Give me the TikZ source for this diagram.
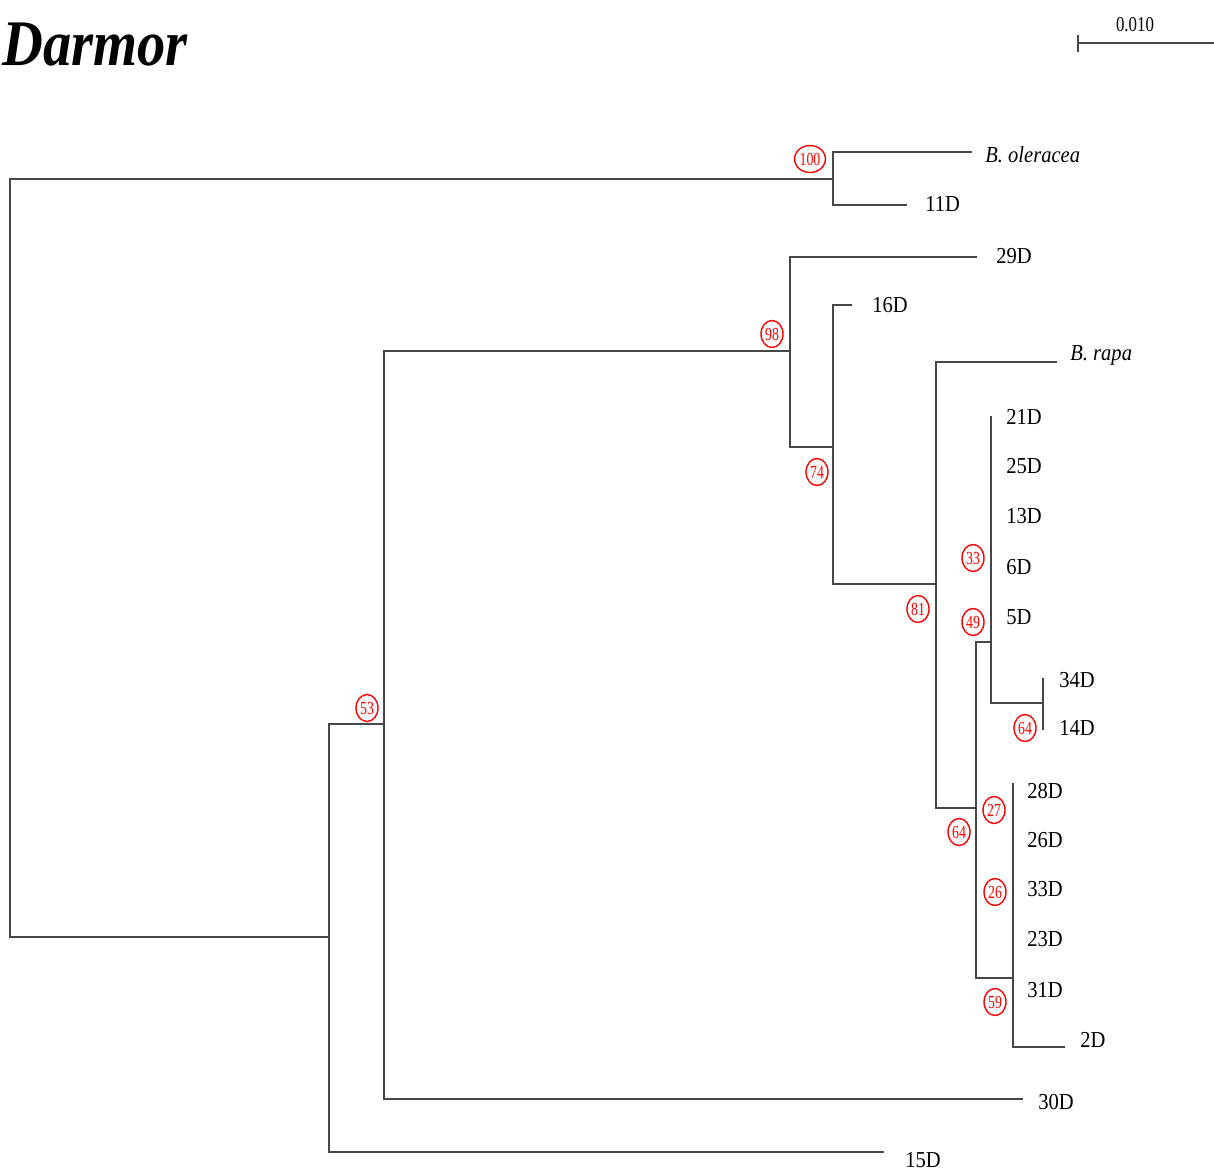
\documentclass[tikz,border=0pt]{standalone}
\usepackage{fontspec}
\setmainfont{Liberation Serif}
\usepackage{tikz}
\usetikzlibrary{shapes.geometric,positioning}
\tikzset{
    branch/.style={draw=black!72, line width=1.3pt},
    taxon/.style={anchor=west, inner sep=0pt, font=\fontsize{13}{15}\selectfont},
    boot/.style={ellipse, draw=red, text=red, line width=0.8pt, inner sep=0.3pt, minimum width=0.44cm, minimum height=0.54cm, font=\fontsize{10.5}{12}\selectfont}
}
\newcommand{\narrow}[1]{\scalebox{0.9}[1]{#1}}
\newcommand{\bval}[1]{\scalebox{0.75}[1]{#1}}

\begin{document}
\begin{tikzpicture}[x=0.02cm, y=-0.02cm]
    \useasboundingbox (0,0) rectangle (1214,1171);

    % Title and scale bar
    \node[anchor=base west, inner sep=0pt, font=\fontsize{37}{40}\selectfont\bfseries\itshape] (title) at (2,65) {\scalebox{0.87}[1]{Darmor}};
    \coordinate (sbL) at (1078,43);
    \coordinate (sbR) at (1214,43);
    \coordinate (sbT) at (1078,35);
    \coordinate (sbB) at (1078,52);
    \draw[branch] (sbL) -- (sbR);
    \draw[branch] (sbT) -- (sbB);
    \node[inner sep=0pt, font=\fontsize{12}{14}\selectfont] (sblab) at (1135,25) {\scalebox{0.8}[1]{0.010}};

    % Internal nodes
    \coordinate (root) at (10,558);
    \coordinate (n100) at (833,179);
    \coordinate (n53) at (329,937);
    \coordinate (n2) at (384,724);
    \coordinate (n98) at (790,351);
    \coordinate (n74) at (833,447);
    \coordinate (n81) at (936,584);
    \coordinate (n64) at (976,808);
    \coordinate (n49) at (991,642);
    \coordinate (n34) at (1043,703);
    \coordinate (n59) at (1013,978);

    % Tips
    \coordinate (tOle) at (972,152);
    \coordinate (t11) at (907,205);
    \coordinate (t29) at (977,257);
    \coordinate (t16) at (852,305);
    \coordinate (tRapa) at (1057,362);
    \coordinate (t21) at (991,416);
    \coordinate (t34) at (1043,678);
    \coordinate (t14) at (1043,730);
    \coordinate (t28) at (1013,783);
    \coordinate (t2) at (1065,1047);
    \coordinate (t30) at (1023,1099);
    \coordinate (t15) at (884,1152);

    % Labels
    \node[taxon] (lOle) at (985,155) {\narrow{\itshape B. oleracea}};
    \node[taxon] (l11) at (925,204) {\narrow{11D}};
    \node[taxon] (l29) at (996,256) {\narrow{29D}};
    \node[taxon] (l16) at (872,305) {\narrow{16D}};
    \node[taxon] (lRapa) at (1070,355) {\narrow{\itshape B. rapa}};
    \node[taxon] (l21) at (1006,417) {\narrow{21D}};
    \node[taxon] (l25) at (1006,466) {\narrow{25D}};
    \node[taxon] (l13) at (1006,516) {\narrow{13D}};
    \node[taxon] (l6) at (1006,567) {\narrow{6D}};
    \node[taxon] (l5) at (1006,617) {\narrow{5D}};
    \node[taxon] (l34) at (1059,680) {\narrow{34D}};
    \node[taxon] (l14) at (1059,728) {\narrow{14D}};
    \node[taxon] (l28) at (1027,791) {\narrow{28D}};
    \node[taxon] (l26) at (1027,840) {\narrow{26D}};
    \node[taxon] (l33) at (1027,889) {\narrow{33D}};
    \node[taxon] (l23) at (1027,939) {\narrow{23D}};
    \node[taxon] (l31) at (1027,990) {\narrow{31D}};
    \node[taxon] (l2) at (1080,1040) {\narrow{2D}};
    \node[taxon] (l30) at (1038,1102) {\narrow{30D}};
    \node[taxon] (l15) at (905,1160) {\narrow{15D}};

    % edges
    \draw[branch] (root) |- (n100);
    \draw[branch] (root) |- (n53);
    \draw[branch] (n100) |- (tOle);
    \draw[branch] (n100) |- (t11);
    \draw[branch] (n53) |- (n2);
    \draw[branch] (n53) |- (t15);
    \draw[branch] (n2) |- (n98);
    \draw[branch] (n2) |- (t30);
    \draw[branch] (n98) |- (t29);
    \draw[branch] (n98) |- (n74);
    \draw[branch] (n74) |- (t16);
    \draw[branch] (n74) |- (n81);
    \draw[branch] (n81) |- (tRapa);
    \draw[branch] (n81) |- (n64);
    \draw[branch] (n64) |- (n49);
    \draw[branch] (n64) |- (n59);
    \draw[branch] (n49) |- (t21);
    \draw[branch] (n49) |- (n34);
    \draw[branch] (t34) -- (t14);
    \draw[branch] (n59) |- (t28);
    \draw[branch] (n59) |- (t2);

    % Bootstrap values
    \node[boot] (b100) at (810,159) {\bval{100}};
    \node[boot] (b98) at (772,334) {\bval{98}};
    \node[boot] (b74) at (817,472) {\bval{74}};
    \node[boot] (b81) at (918,609) {\bval{81}};
    \node[boot] (b33) at (973,558) {\bval{33}};
    \node[boot] (b49) at (973,622) {\bval{49}};
    \node[boot] (b64a) at (1025,728) {\bval{64}};
    \node[boot] (b27) at (994,810) {\bval{27}};
    \node[boot] (b64b) at (959,832) {\bval{64}};
    \node[boot] (b26) at (995,892) {\bval{26}};
    \node[boot] (b59) at (995,1002) {\bval{59}};
    \node[boot] (b53) at (367,708) {\bval{53}};
\end{tikzpicture}
\end{document}
